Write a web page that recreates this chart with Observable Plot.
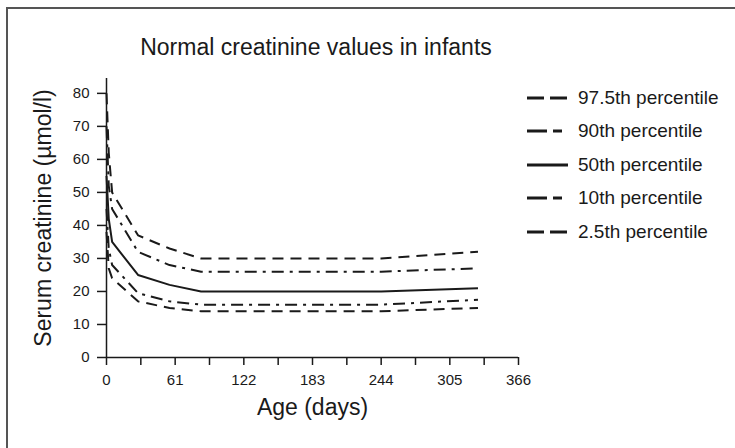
<!DOCTYPE html>
<html><head><meta charset="utf-8">
<script src="https://cdn.jsdelivr.net/npm/d3@7"></script>
<script src="https://cdn.jsdelivr.net/npm/@observablehq/plot@0.6"></script>
<style>
body{margin:0;background:#fff;}
#wrap{position:relative;width:735px;height:448px;overflow:hidden;font-family:"Liberation Sans",Arial,sans-serif;color:#1a1a1a;}
#frame{position:absolute;left:6px;top:7px;width:760px;height:480px;border-left:2px solid #555;border-top:2px solid #555;pointer-events:none;}
#title{position:absolute;left:0;top:33px;width:632px;text-align:center;font-size:23px;line-height:28px;}
#legend{position:absolute;left:527px;top:81px;}
.item{display:flex;align-items:center;height:33.5px;font-size:19px;}
.item svg{margin-right:10px;}
#chart{position:absolute;left:0;top:0;}
</style></head>
<body>
<div id="wrap">
  <div id="chart"></div>
  <div id="frame"></div>
  <div id="title"></div>
  <div id="legend"></div>
</div>
<script>
const titleText = "Normal creatinine values in infants";
const xLabel = "Age (days)";
const yLabel = "Serum creatinine (µmol/l)";
const days = [0, 2, 5, 28, 56, 84, 244, 330];
const p975 = [80, 62, 50, 37, 33, 30, 30, 32];
const p90  = [70, 52, 45, 32, 28, 26, 26, 27];
const p50  = [55, 42, 35, 25, 22, 20, 20, 21];
const p10  = [45, 33, 28, 19.5, 17, 16, 16, 17.5];
const p25  = [38, 27, 24, 17, 15, 14, 14, 15];
const seriesNames = ["97.5th percentile", "90th percentile", "50th percentile", "10th percentile", "2.5th percentile"];
const seriesValues = [p975, p90, p50, p10, p25];
const xTicks = [0, 61, 122, 183, 244, 305, 366];
const xMinorTicks = [30.5, 91.5, 152.5, 213.5, 274.5, 335.5];
const yTicks = [0, 10, 20, 30, 40, 50, 60, 70, 80];

const dashes = {"97.5th percentile": "11,7", "90th percentile": "12,6,3,6", "50th percentile": null, "10th percentile": "12,6,3,6", "2.5th percentile": "11,7"};
const legendDashes = {"97.5th percentile": "17,6", "90th percentile": "20,6,9,6", "50th percentile": null, "10th percentile": "20,6,9,6", "2.5th percentile": "17,6"};

const rows = [];
seriesNames.forEach((s, i) => days.forEach((d, j) => rows.push({series: s, day: d, value: seriesValues[i][j]})));

const ink = "#1a1a1a";
const font = '"Liberation Sans", Arial, sans-serif';
const lineMarks = seriesNames.map(s => Plot.line(rows.filter(r => r.series === s), {
  x: "day", y: "value", stroke: ink, strokeWidth: 2, strokeLinecap: "butt", strokeLinejoin: "round",
  strokeDasharray: dashes[s] || undefined
}));

const chart = Plot.plot({
  width: 735, height: 448,
  marginLeft: 106, marginRight: 217, marginTop: 78, marginBottom: 91,
  x: {domain: [0, 366]},
  y: {domain: [0, 84.5]},
  style: {fontFamily: font, color: ink, background: "transparent"},
  marks: [
    Plot.axisY({ticks: yTicks, tickSize: 9, tickPadding: 8, fontSize: 15, label: null, strokeWidth: 1.5}),
    Plot.axisX({ticks: xTicks, tickSize: 8, tickPadding: 9, fontSize: 15, label: null, strokeWidth: 1.5}),
    Plot.axisX({ticks: xMinorTicks, tickSize: 8, tickFormat: () => "", label: null, strokeWidth: 1.5}),
    Plot.ruleX([0], {stroke: ink, strokeWidth: 1.5}),
    Plot.ruleY([0], {stroke: ink, strokeWidth: 1.5}),
    ...lineMarks,
    Plot.text([xLabel], {text: d => d, frameAnchor: "bottom", textAnchor: "middle", dy: 57, fontSize: 23, fill: ink}),
    Plot.text([yLabel], {text: d => d, frameAnchor: "left", textAnchor: "middle", dx: -63, rotate: -90, fontSize: 23, fill: ink})
  ]
});
document.getElementById("chart").appendChild(chart);
document.getElementById("title").textContent = titleText;

const legend = document.getElementById("legend");
seriesNames.forEach(s => {
  const item = document.createElement("div");
  item.className = "item";
  const ns = "http://www.w3.org/2000/svg";
  const svg = document.createElementNS(ns, "svg");
  svg.setAttribute("width", 41); svg.setAttribute("height", 6);
  const ln = document.createElementNS(ns, "line");
  ln.setAttribute("x1", 0); ln.setAttribute("x2", 41); ln.setAttribute("y1", 3); ln.setAttribute("y2", 3);
  ln.setAttribute("stroke", ink); ln.setAttribute("stroke-width", 3);
  if (legendDashes[s]) ln.setAttribute("stroke-dasharray", legendDashes[s]);
  svg.appendChild(ln);
  const t = document.createElement("span");
  t.textContent = s;
  item.appendChild(svg); item.appendChild(t);
  legend.appendChild(item);
});
</script>
</body></html>
